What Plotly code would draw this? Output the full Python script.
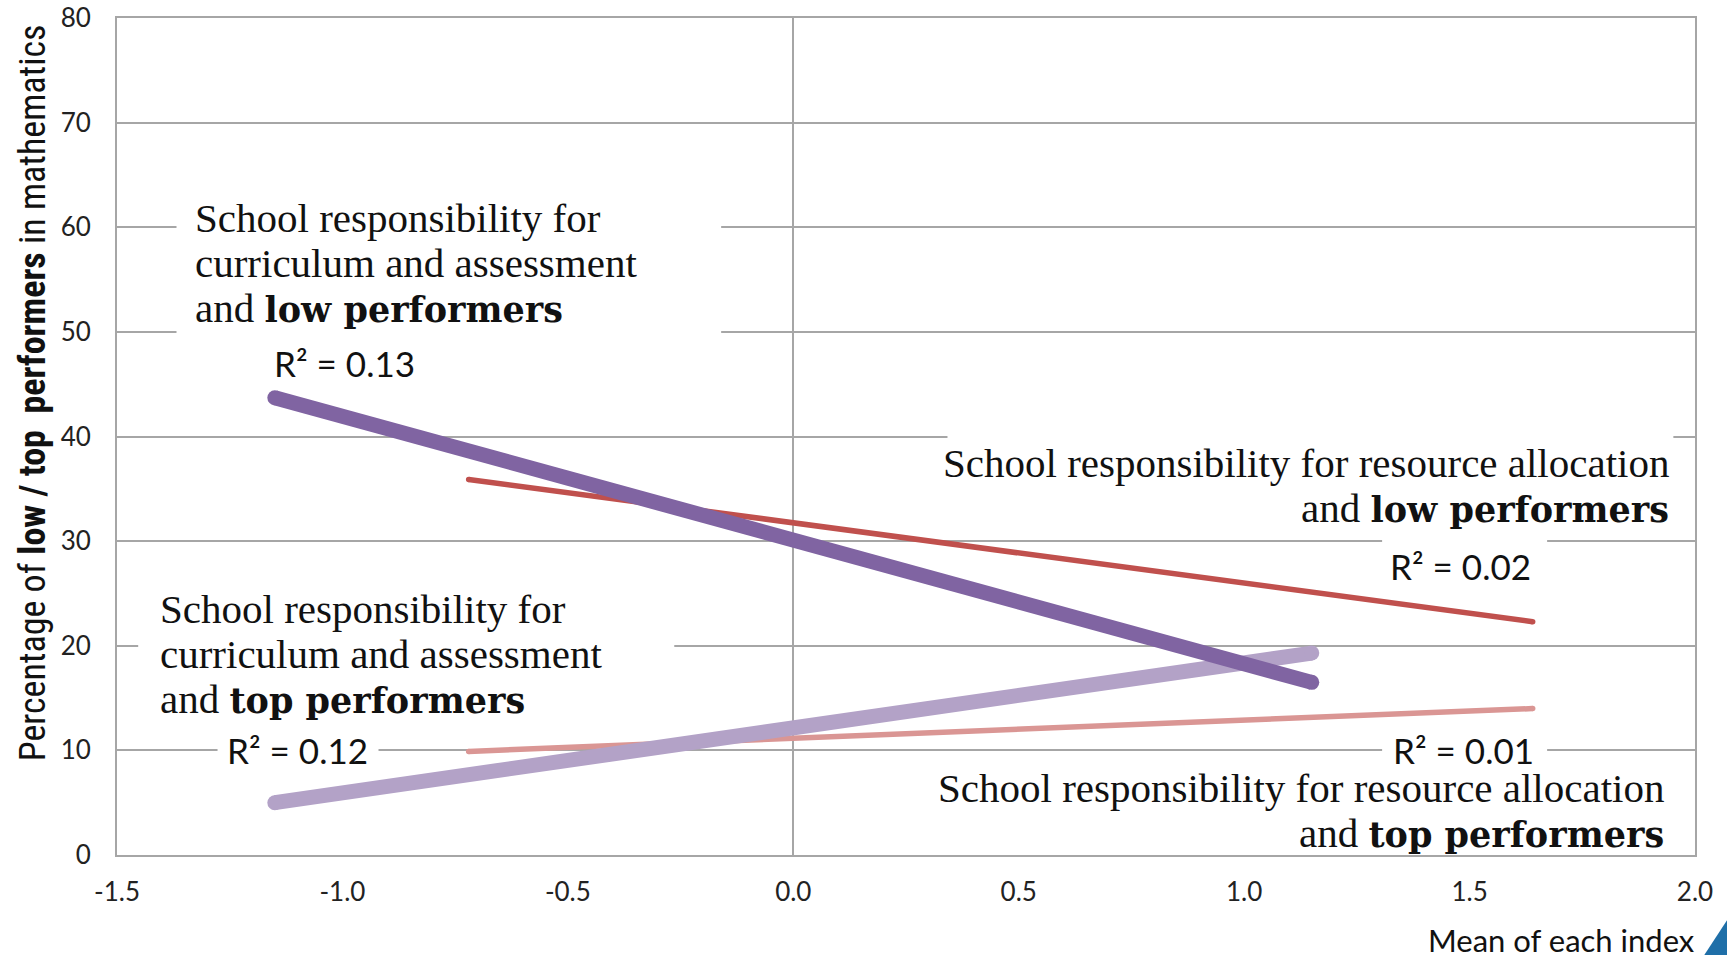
import plotly.graph_objects as go

# Fitted trend lines: mean of each index (x) vs. share of low / top performers (y)
curriculum_x = [-1.15, 1.15]
resource_x = [-0.72, 1.64]
curr_low_y = [43.7, 16.5]
curr_top_y = [5.0, 19.3]
res_low_y = [35.9, 22.3]
res_top_y = [9.9, 14.0]

r2_curr_low = "0.13"
r2_curr_top = "0.12"
r2_res_low = "0.02"
r2_res_top = "0.01"

x_ticks = [-1.5, -1.0, -0.5, 0.0, 0.5, 1.0, 1.5, 2.0]
y_ticks = [0, 10, 20, 30, 40, 50, 60, 70, 80]

SERIF = "Liberation Serif, Times New Roman, serif"
SANS = "Lato, Open Sans, sans-serif"
NARROW = "Liberation Sans Narrow, Arial Narrow, Roboto Condensed, sans-serif"
GRID = "#a6a6a6"
INK = "#111111"


def heavy(words):
    # emphasised words use a broader, heavier serif
    return ('<span style="font-family:DejaVu Serif;font-size:35px">'
            f"<b>{words}</b></span>")


label_curr_low = ["School responsibility for", "curriculum and assessment",
                  "and " + heavy("low performers")]
label_curr_top = ["School responsibility for", "curriculum and assessment",
                  "and " + heavy("top performers")]
label_res_low = ["School responsibility for resource allocation",
                 "and " + heavy("low performers")]
label_res_top = ["School responsibility for resource allocation",
                 "and " + heavy("top performers")]

fig = go.Figure()

series = [
    (resource_x, res_low_y, "#c0504d", 5.5),
    (resource_x, res_top_y, "#da9694", 5.5),
    (curriculum_x, curr_top_y, "#b3a2c7", 15),
    (curriculum_x, curr_low_y, "#8064a2", 15),
]
for xs, ys, color, w in series:
    fig.add_trace(go.Scatter(
        x=xs, y=ys, mode="lines+markers",
        line=dict(color=color, width=w),
        marker=dict(color=color, size=w, line=dict(width=0)),
        hoverinfo="skip", showlegend=False,
    ))

# white panels behind the labels (hide the gridlines, stay under the lines)
panels = [
    (-1.368, -0.160, 45.3, 65.0),
    (0.342, 1.952, 31.2, 42.0),
    (1.306, 1.672, 25.6, 31.2),
    (-1.453, -0.264, 14.0, 27.0),
    (-1.277, -0.920, 8.0, 11.8),
    (1.306, 1.672, 8.0, 11.8),
]
shapes = [
    dict(type="rect", xref="x", yref="y", x0=a, x1=b, y0=c, y1=d,
         fillcolor="white", line=dict(width=0), layer="between")
    for a, b, c, d in panels
]
# corner mark
shapes.append(dict(type="path", xref="paper", yref="paper",
                   path="M 1.0057 -0.1200 L 1.0210 -0.1200 L 1.0210 -0.0760 Z",
                   fillcolor="#1f6fa8", line=dict(width=0), layer="above"))

serif_font = dict(family=SERIF, size=41, color=INK)
sans_font = dict(family=SANS, size=35, color=INK)

LINE_STEP = 4.3  # vertical distance between label lines, in y units

annotations = []


def add_block(lines, x, y_first, anchor):
    for i, line in enumerate(lines):
        annotations.append(dict(x=x, y=y_first - i * LINE_STEP, xanchor=anchor,
                                yanchor="middle", text=line, font=serif_font))


add_block(label_curr_low, -1.332, 60.9, "left")
add_block(label_res_low, 1.946, 37.5, "right")
add_block(label_curr_top, -1.410, 23.5, "left")
add_block(label_res_top, 1.935, 6.4, "right")

annotations += [
    dict(x=-0.996, y=47.0, text="R² = " + r2_curr_low, font=sans_font),
    dict(x=-1.100, y=10.0, text="R² = " + r2_curr_top, font=sans_font),
    dict(x=1.479, y=27.6, text="R² = " + r2_res_low, font=sans_font),
    dict(x=1.486, y=10.0, text="R² = " + r2_res_top, font=sans_font),
    # axis titles
    dict(xref="paper", yref="paper", x=1.001, y=-0.101, xanchor="right", yanchor="middle",
         text="Mean of each index", font=dict(family=SANS, size=31, color=INK)),
    dict(xref="paper", yref="paper", x=-0.053, y=0.552, xanchor="center", yanchor="middle",
         textangle=-90,
         text="Percentage of <b>low / top  performers</b> in mathematics",
         font=dict(family=NARROW, size=36, color=INK)),
]
for a in annotations:
    a.setdefault("xref", "x")
    a.setdefault("yref", "y")
    a.setdefault("showarrow", False)

fig.update_layout(
    width=1727, height=955,
    margin=dict(l=117, r=32, t=18, b=100),
    paper_bgcolor="white", plot_bgcolor="white",
    shapes=shapes, annotations=annotations,
    xaxis=dict(range=[-1.5, 2.0], tickvals=x_ticks,
               ticktext=[f"{v:.1f}" for v in x_ticks],
               showgrid=False, zeroline=True, zerolinecolor=GRID, zerolinewidth=1.5,
               showline=True, mirror=True, linecolor=GRID, linewidth=2,
               ticks="", ticklabelstandoff=13, automargin=False,
               tickfont=dict(family=SANS, size=26, color="#222222")),
    yaxis=dict(range=[0, 80], tickvals=y_ticks,
               showgrid=True, gridcolor=GRID, gridwidth=1.5, zeroline=False,
               showline=True, mirror=True, linecolor=GRID, linewidth=2,
               ticks="", ticklabelstandoff=19, automargin=False,
               tickfont=dict(family=SANS, size=26, color="#222222")),
)

fig.write_html("out.html")
